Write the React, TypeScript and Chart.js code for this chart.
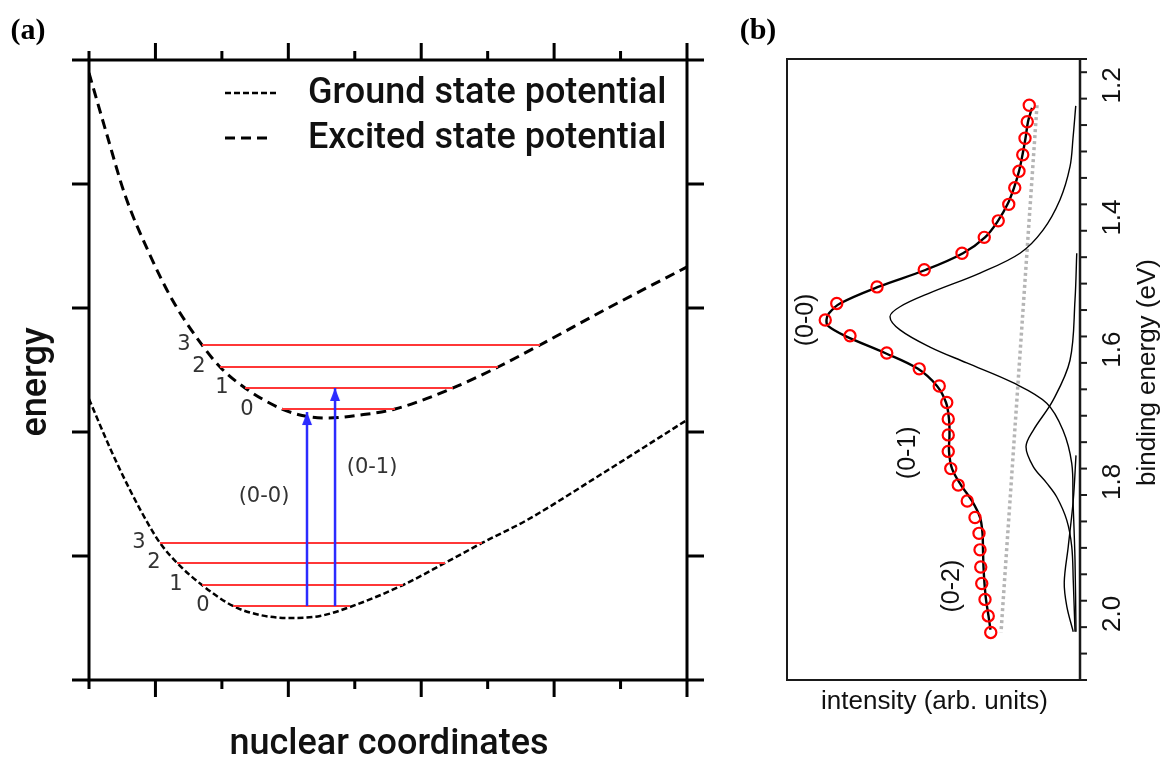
import React, { useEffect, useRef } from "react";
import { Chart, registerables } from "chart.js";

Chart.register(...registerables);

// ---------------- Panel (a): potential curves ----------------
const GROUND_X = [0, 0.316, 0.617, 0.918, 1.069, 1.325, 1.701, 2.167, 2.574, 3.025, 3.477, 3.928, 4.726, 5.358, 5.915, 6.592, 7.691, 9];
const GROUND_Y = [2.266, 1.871, 1.532, 1.234, 1.105, 0.944, 0.766, 0.597, 0.524, 0.5, 0.516, 0.589, 0.766, 0.944, 1.105, 1.29, 1.653, 2.097];

const EXCITED_X = [0, 0.271, 0.542, 0.918, 1.264, 1.701, 1.972, 2.348, 2.905, 3.251, 3.582, 4.079, 4.606, 5.479, 6.156, 6.788, 7.842, 9];
const EXCITED_Y = [4.895, 4.395, 3.911, 3.427, 3.056, 2.702, 2.524, 2.355, 2.185, 2.129, 2.113, 2.137, 2.185, 2.355, 2.524, 2.702, 3.008, 3.331];

const LEVEL_LABELS = ["0", "1", "2", "3"];
const GROUND_LEVEL_Y = [0.597, 0.766, 0.944, 1.105];
const GROUND_LEVEL_X0 = [2.167, 1.701, 1.325, 1.069];
const GROUND_LEVEL_X1 = [3.928, 4.726, 5.358, 5.915];
const EXCITED_LEVEL_Y = [2.185, 2.355, 2.524, 2.702];
const EXCITED_LEVEL_X0 = [2.905, 2.348, 1.972, 1.701];
const EXCITED_LEVEL_X1 = [4.606, 5.479, 6.156, 6.788];

const TRANSITION_LABELS = ["(0-0)", "(0-1)"];
const TRANSITION_X = [3.281, 3.703];
const TRANSITION_FROM = [0.597, 0.597];
const TRANSITION_TO = [2.161, 2.355];

// text anchors (data coordinates)
const GROUND_LABEL_X = [1.716, 1.31, 0.978, 0.753];
const EXCITED_LABEL_X = [2.378, 2.002, 1.656, 1.43];
const TRANSITION_LABEL_POS = [
  [2.634, 1.476],
  [4.26, 1.71],
];

// ---------------- Panel (b): spectrum ----------------
const SPEC_E = [1.23, 1.255, 1.28, 1.305, 1.33, 1.355, 1.38, 1.405, 1.43, 1.454, 1.479, 1.505, 1.53, 1.555, 1.579, 1.605, 1.629, 1.655, 1.68, 1.705, 1.729, 1.754, 1.78, 1.805, 1.829, 1.854, 1.878, 1.903, 1.929, 1.954, 1.978, 2.003, 2.028];
const SPEC_I = [0.191, 0.199, 0.208, 0.217, 0.232, 0.249, 0.273, 0.315, 0.371, 0.46, 0.611, 0.8, 0.961, 1.007, 0.908, 0.761, 0.631, 0.551, 0.521, 0.515, 0.515, 0.515, 0.505, 0.475, 0.439, 0.408, 0.392, 0.388, 0.385, 0.381, 0.368, 0.355, 0.345];

const FIT_E = [1.234, 1.255, 1.28, 1.305, 1.33, 1.355, 1.38, 1.405, 1.43, 1.454, 1.479, 1.505, 1.53, 1.545, 1.555, 1.564, 1.579, 1.605, 1.629, 1.655, 1.68, 1.705, 1.729, 1.754, 1.78, 1.805, 1.829, 1.854, 1.878, 1.903, 1.929, 1.954, 1.978, 2.003, 2.024];
const FIT_I = [0.18, 0.196, 0.206, 0.218, 0.232, 0.252, 0.278, 0.316, 0.368, 0.456, 0.604, 0.796, 0.948, 0.992, 1.002, 0.996, 0.928, 0.768, 0.636, 0.56, 0.524, 0.512, 0.51, 0.512, 0.5, 0.464, 0.42, 0.388, 0.378, 0.376, 0.374, 0.37, 0.364, 0.354, 0.346];

const G0_E = [1.231, 1.28, 1.323, 1.373, 1.419, 1.454, 1.484, 1.514, 1.535, 1.55, 1.57, 1.596, 1.62, 1.65, 1.681, 1.722, 1.772, 1.828, 1.918, 2.027];
const G0_I = [0.005, 0.016, 0.028, 0.068, 0.136, 0.228, 0.388, 0.588, 0.708, 0.748, 0.708, 0.588, 0.441, 0.256, 0.121, 0.056, 0.021, 0.016, 0.008, 0.004];

const G1_E = [1.454, 1.525, 1.616, 1.676, 1.722, 1.747, 1.777, 1.802, 1.823, 1.858, 1.898, 1.949, 2.027];
const G1_I = [0.001, 0.008, 0.028, 0.095, 0.175, 0.204, 0.175, 0.121, 0.081, 0.041, 0.021, 0.015, 0.008];

const G2_E = [1.76, 1.828, 1.898, 1.952, 1.988, 2.027];
const G2_I = [0.004, 0.015, 0.035, 0.051, 0.041, 0.015];

const BASE_E = [1.23, 2.028];
const BASE_I = [0.16, 0.304];

const PEAK_LABELS = ["(0-0)", "(0-1)", "(0-2)"];
const PEAK_LABEL_I = [1.084, 0.676, 0.5];
const PEAK_LABEL_E = [1.555, 1.756, 1.958];

const AXIS_TICK_LABELS = ["1.2", "1.4", "1.6", "1.8", "2.0"];

// ---------------- helpers ----------------
const pts = (xs: number[], ys: number[]) => xs.map((x, i) => ({ x, y: ys[i] }));

const TITLE_FONT = '500 36px Roboto, "Open Sans", sans-serif';
const LEVEL_FONT = '21px "DejaVu Sans", sans-serif';
const ARIAL = '"Liberation Sans", Arial, sans-serif';
const PANEL_FONT = 'bold 30px "Liberation Serif", serif';

function makeArrowHead(color: string) {
  const c = document.createElement("canvas");
  c.width = 12;
  c.height = 28;
  const g = c.getContext("2d")!;
  g.fillStyle = color;
  g.beginPath();
  g.moveTo(6, 14);
  g.lineTo(11, 27);
  g.lineTo(1, 27);
  g.closePath();
  g.fill();
  return c;
}

const frameA = {
  id: "frameA",
  afterDatasetsDraw(chart: any) {
    const { ctx, chartArea: a, scales } = chart;
    const xs = scales.x;
    const ys = scales.y;
    ctx.save();
    ctx.strokeStyle = "#000";
    ctx.lineWidth = 3;
    ctx.beginPath();
    ctx.rect(a.left, a.top, a.right - a.left, a.bottom - a.top);
    ctx.stroke();
    const xt = xs.ticks;
    xt.forEach((t: any, i: number) => {
      const px = xs.getPixelForValue(t.value);
      const len = i % 2 === 1 || i === xt.length - 1 ? 17 : 9;
      ctx.beginPath();
      ctx.moveTo(px, a.top);
      ctx.lineTo(px, a.top - len);
      ctx.moveTo(px, a.bottom);
      ctx.lineTo(px, a.bottom + len);
      ctx.stroke();
    });
    ys.ticks.forEach((t: any) => {
      const py = ys.getPixelForValue(t.value);
      ctx.beginPath();
      ctx.moveTo(a.left, py);
      ctx.lineTo(a.left - 17, py);
      ctx.moveTo(a.right, py);
      ctx.lineTo(a.right + 17, py);
      ctx.stroke();
    });
    ctx.restore();
  },
};

const textA = {
  id: "textA",
  afterDraw(chart: any) {
    const { ctx, chartArea: a, scales } = chart;
    const xs = scales.x;
    const ys = scales.y;
    ctx.save();
    ctx.textAlign = "center";
    ctx.textBaseline = "middle";
    // vibrational level numbers
    ctx.font = LEVEL_FONT;
    ctx.fillStyle = "#333";
    LEVEL_LABELS.forEach((lab, i) => {
      ctx.fillText(lab, xs.getPixelForValue(GROUND_LABEL_X[i]), ys.getPixelForValue(GROUND_LEVEL_Y[i]));
      ctx.fillText(lab, xs.getPixelForValue(EXCITED_LABEL_X[i]), ys.getPixelForValue(EXCITED_LEVEL_Y[i]));
    });
    TRANSITION_LABELS.forEach((lab, i) => {
      ctx.fillText(lab, xs.getPixelForValue(TRANSITION_LABEL_POS[i][0]), ys.getPixelForValue(TRANSITION_LABEL_POS[i][1]));
    });
    // legend
    const ds = chart.data.datasets;
    const legendItems = ds.filter((d: any) => d.label);
    legendItems.forEach((d: any, i: number) => {
      const y = a.top + 33 + i * 45;
      ctx.save();
      ctx.strokeStyle = d.borderColor;
      ctx.lineWidth = d.borderWidth;
      ctx.setLineDash(d.borderDash || []);
      ctx.beginPath();
      ctx.moveTo(a.left + 136, y);
      ctx.lineTo(a.left + (i === 0 ? 190 : 181), y);
      ctx.stroke();
      ctx.restore();
      ctx.font = TITLE_FONT;
      ctx.fillStyle = "#111";
      ctx.textAlign = "left";
      ctx.fillText(d.label, a.left + 219, y + 1);
    });
    // axis titles
    ctx.textAlign = "center";
    ctx.font = TITLE_FONT;
    ctx.fillStyle = "#111";
    ctx.fillText("nuclear coordinates", (a.left + a.right) / 2 + 1, 745);
    ctx.save();
    ctx.translate(37, 382);
    ctx.rotate(-Math.PI / 2);
    ctx.fillText("energy", 0, 0);
    ctx.restore();
    // panel letter
    ctx.font = PANEL_FONT;
    ctx.fillStyle = "#000";
    ctx.fillText("(a)", 28, 31);
    ctx.restore();
  },
};

const frameB = {
  id: "frameB",
  afterDatasetsDraw(chart: any) {
    const { ctx, chartArea: a, scales } = chart;
    const ys = scales.y;
    ctx.save();
    ctx.strokeStyle = "#1a1a1a";
    ctx.lineWidth = 2;
    ctx.beginPath();
    ctx.moveTo(a.right + 7, a.top);
    ctx.lineTo(a.left, a.top);
    ctx.lineTo(a.left, a.bottom);
    ctx.lineTo(a.right + 7, a.bottom);
    ctx.stroke();
    ctx.lineWidth = 2.5;
    ctx.beginPath();
    ctx.moveTo(a.right, a.top - 1);
    ctx.lineTo(a.right, a.bottom + 1);
    ctx.stroke();
    ctx.lineWidth = 2;
    ys.ticks.forEach((t: any) => {
      const v = t.value;
      const major = Math.abs(v * 5 - Math.round(v * 5)) < 1e-6;
      const py = ys.getPixelForValue(v);
      ctx.beginPath();
      ctx.moveTo(a.right, py);
      ctx.lineTo(a.right + (major ? 13 : 7), py);
      ctx.stroke();
    });
    ctx.restore();
  },
};

const textB = {
  id: "textB",
  afterDraw(chart: any) {
    const { ctx, chartArea: a, scales } = chart;
    const xs = scales.x;
    const ys = scales.y;
    ctx.save();
    ctx.textAlign = "center";
    ctx.textBaseline = "middle";
    ctx.fillStyle = "#111";
    const rot = (text: string, x: number, y: number) => {
      ctx.save();
      ctx.translate(x, y);
      ctx.rotate(-Math.PI / 2);
      ctx.fillText(text, 0, 0);
      ctx.restore();
    };
    ctx.font = "26px " + ARIAL;
    AXIS_TICK_LABELS.forEach((lab) => {
      rot(lab, a.right + 33, ys.getPixelForValue(parseFloat(lab)));
    });
    rot("binding energy (eV)", a.right + 68, (a.top + a.bottom) / 2 + 3);
    ctx.fillText("intensity (arb. units)", (a.left + a.right) / 2 + 1, 702);
    ctx.font = "25px " + ARIAL;
    PEAK_LABELS.forEach((lab, i) => {
      rot(lab, xs.getPixelForValue(PEAK_LABEL_I[i]), ys.getPixelForValue(PEAK_LABEL_E[i]));
    });
    ctx.font = PANEL_FONT;
    ctx.fillStyle = "#000";
    ctx.fillText("(b)", 38, 31);
    ctx.restore();
  },
};

export default function App() {
  const refA = useRef<HTMLCanvasElement>(null);
  const refB = useRef<HTMLCanvasElement>(null);

  useEffect(() => {
    const blue = "#2b2bff";
    const red = "rgb(255,55,55)";
    const arrow = makeArrowHead(blue);

    const levelSets = [
      ...GROUND_LEVEL_Y.map((y, i) => ({ x0: GROUND_LEVEL_X0[i], x1: GROUND_LEVEL_X1[i], y })),
      ...EXCITED_LEVEL_Y.map((y, i) => ({ x0: EXCITED_LEVEL_X0[i], x1: EXCITED_LEVEL_X1[i], y })),
    ].map((l) => ({
      data: [
        { x: l.x0, y: l.y },
        { x: l.x1, y: l.y },
      ],
      borderColor: red,
      borderWidth: 2,
      pointRadius: 0,
    }));

    const arrowSets = TRANSITION_X.map((x, i) => ({
      data: [
        { x, y: TRANSITION_FROM[i] },
        { x, y: TRANSITION_TO[i] },
      ],
      borderColor: blue,
      borderWidth: 2.5,
      pointRadius: [0, 6],
      pointStyle: arrow,
    }));

    const chartA = new Chart(refA.current!, {
      type: "line",
      data: {
        datasets: [
          ...arrowSets,
          ...levelSets,
          {
            label: "Ground state potential",
            data: pts(GROUND_X, GROUND_Y),
            borderColor: "#000",
            borderWidth: 2.5,
            borderDash: [6, 3],
            pointRadius: 0,
            cubicInterpolationMode: "monotone",
          },
          {
            label: "Excited state potential",
            data: pts(EXCITED_X, EXCITED_Y),
            borderColor: "#000",
            borderWidth: 3,
            borderDash: [10, 6],
            pointRadius: 0,
            cubicInterpolationMode: "monotone",
          },
        ] as any,
      },
      options: {
        animation: false,
        responsive: false,
        events: [],
        layout: { padding: { left: 89, top: 60, right: 720 - 687, bottom: 760 - 680 } },
        plugins: { legend: { display: false }, tooltip: { enabled: false } },
        scales: {
          x: { type: "linear", min: 0, max: 9, display: false, ticks: { stepSize: 1 } },
          y: { type: "linear", min: 0, max: 5, display: false, ticks: { stepSize: 1 } },
        },
      } as any,
      plugins: [frameA, textA],
    });

    const chartB = new Chart(refB.current!, {
      type: "line",
      data: {
        datasets: [
          {
            data: pts(SPEC_I, SPEC_E),
            showLine: false,
            pointStyle: "circle",
            pointRadius: 5.6,
            pointBorderWidth: 2.2,
            pointBorderColor: "#ff0000",
            pointBackgroundColor: "rgba(0,0,0,0)",
          },
          {
            data: pts(FIT_I, FIT_E),
            borderColor: "#000",
            borderWidth: 2.4,
            pointRadius: 0,
            tension: 0.35,
          },
          { data: pts(G0_I, G0_E), borderColor: "#000", borderWidth: 1.4, pointRadius: 0, tension: 0.35 },
          { data: pts(G1_I, G1_E), borderColor: "#000", borderWidth: 1.4, pointRadius: 0, tension: 0.35 },
          { data: pts(G2_I, G2_E), borderColor: "#000", borderWidth: 1.4, pointRadius: 0, tension: 0.35 },
          {
            data: pts(BASE_I, BASE_E),
            borderColor: "#b5b5b5",
            borderWidth: 3.5,
            borderDash: [3, 3],
            pointRadius: 0,
          },
        ] as any,
      },
      options: {
        animation: false,
        responsive: false,
        events: [],
        layout: { padding: { left: 67, top: 59, right: 444 - 360, bottom: 760 - 680 } },
        plugins: { legend: { display: false }, tooltip: { enabled: false } },
        scales: {
          x: { type: "linear", min: -0.012, max: 1.16, reverse: true, display: false },
          y: { type: "linear", min: 1.16, max: 2.1, reverse: true, display: false, ticks: { stepSize: 0.02 } },
        },
      } as any,
      plugins: [frameB, textB],
    });

    return () => {
      chartA.destroy();
      chartB.destroy();
    };
  }, []);

  return (
    <div style={{ position: "fixed", left: 0, top: 0, width: 1164, height: 760, background: "#fff" }}>
      <canvas ref={refA} width={720} height={760} style={{ position: "absolute", left: 0, top: 0 }} />
      <canvas ref={refB} width={444} height={760} style={{ position: "absolute", left: 720, top: 0 }} />
    </div>
  );
}
